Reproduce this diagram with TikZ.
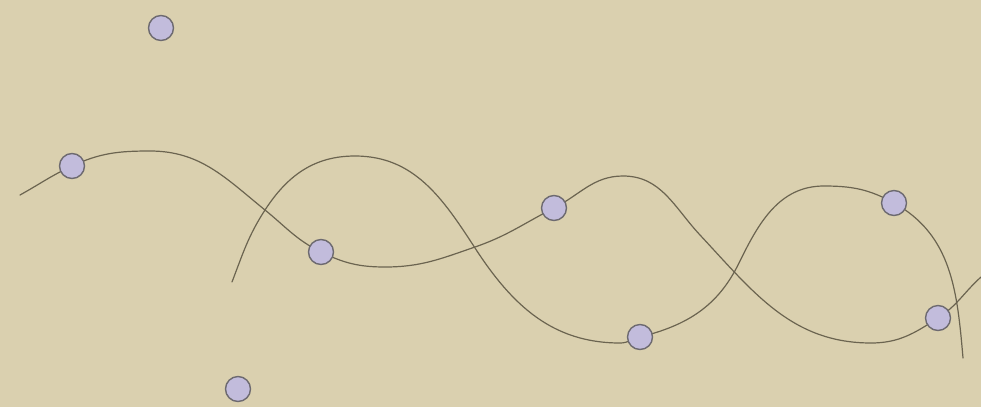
\documentclass[tikz,border=0pt]{standalone}
\definecolor{bgc}{HTML}{DAD0AF}
\definecolor{linec}{HTML}{6B6450}
\definecolor{dotfill}{HTML}{C2BCDC}
\definecolor{dotdraw}{HTML}{6D6A70}
\tikzset{
  dot/.style={circle, minimum size=25pt, inner sep=0pt, fill=dotfill, draw=dotdraw, line width=1.4pt},
  wave/.style={draw=linec, line width=1.2pt, line cap=round}
}
\begin{document}
\begin{tikzpicture}[x=1pt,y=1pt]
\fill[bgc] (0,0) rectangle (981,-407);
\useasboundingbox (0,0) rectangle (981,-407);
% node centres
\coordinate (c1) at (161,-28);
\coordinate (c2) at (72,-166);
\coordinate (c3) at (321,-252);
\coordinate (c4) at (554,-208);
\coordinate (c5) at (640,-337);
\coordinate (c6) at (894,-203);
\coordinate (c7) at (938,-318);
\coordinate (c8) at (238,-389);
% curve A
\draw[wave] (20,-195) to[out=29,in=205] (c2)
  to[out=25,in=180] (150,-151)
  to[out=0,in=141] (265,-210)
  to[out=-39,in=154] (c3)
  to[out=-26,in=180] (385,-267)
  to[out=0,in=199] (475,-247)
  to[out=19,in=207] (c4)
  to[out=27,in=180] (623,-176)
  to[out=0,in=133] (700,-235)
  to[out=-47,in=180] (871,-343)
  to[out=0,in=213] (c7)
  to[out=33,in=222] (981,-277);
% curve B
\draw[wave] (232,-282) to[out=69,in=237] (265,-210)
  to[out=57,in=180] (355,-156)
  to[out=0,in=123] (475,-248)
  to[out=-57,in=180] (620,-343)
  to[out=0,in=194] (c5)
  to[out=14,in=244] (739,-263)
  to[out=64,in=180] (824,-186)
  to[out=0,in=151] (c6)
  to[out=-29,in=95] (963,-358);
\foreach \i in {1,...,8} \node[dot] (n\i) at (c\i) {};
\end{tikzpicture}
\end{document}
